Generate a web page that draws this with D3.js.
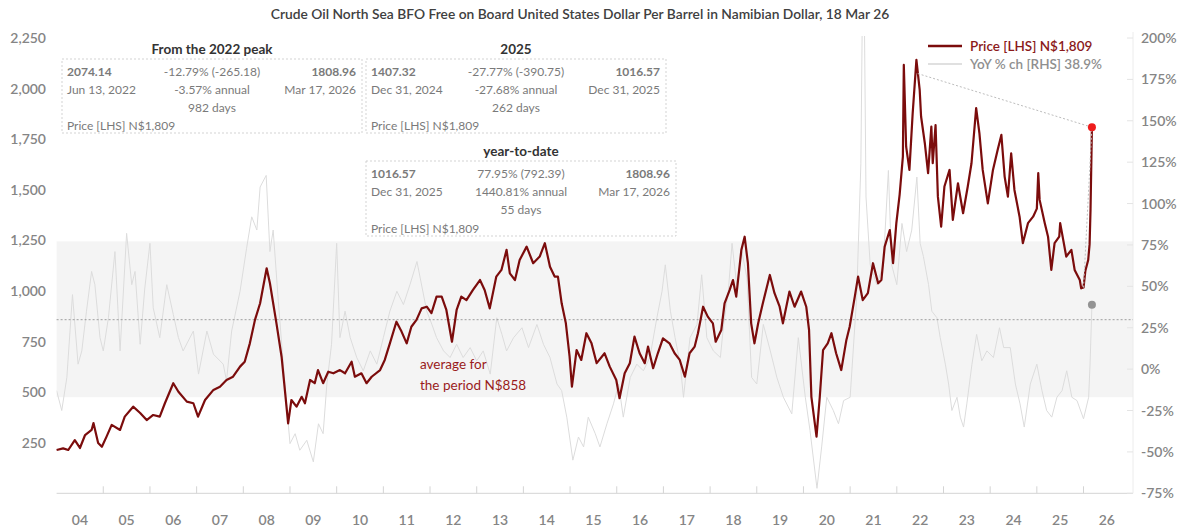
<!DOCTYPE html>
<html>
<head>
<meta charset="utf-8">
<script src="https://cdn.jsdelivr.net/npm/d3@7"></script>
<style>
  body { margin: 0; background: #fff; }
  svg { font-family: Lato, "Open Sans", sans-serif; }
</style>
</head>
<body>
<div id="chart"></div>
<script>
// price in N$ per barrel (decimal years)
var priceYears = [2004.00,2004.14,2004.25,2004.39,2004.50,2004.61,2004.75,2004.79,2004.89,2004.97,
  2005.07,2005.18,2005.36,2005.46,2005.64,2005.79,2005.93,2006.07,2006.21,2006.32,2006.50,2006.61,2006.79,2006.93,
  2007.03,2007.18,2007.36,2007.50,2007.64,2007.78,2007.93,2008.03,2008.14,2008.25,2008.36,2008.50,2008.57,2008.71,
  2008.82,2008.89,2008.96,2009.03,2009.14,2009.25,2009.32,2009.43,2009.53,2009.60,2009.71,2009.82,2009.93,
  2010.07,2010.18,2010.32,2010.39,2010.53,2010.64,2010.75,2010.93,2011.03,2011.14,2011.28,2011.39,2011.50,
  2011.60,2011.71,2011.82,2011.93,2012.03,2012.14,2012.25,2012.35,2012.47,2012.57,2012.67,2012.78,2012.92,
  2013.07,2013.17,2013.28,2013.42,2013.53,2013.64,2013.71,2013.82,2013.92,2014.07,2014.21,2014.35,2014.46,
  2014.57,2014.67,2014.74,2014.82,2014.91,2014.99,2015.04,2015.14,2015.24,2015.35,2015.46,2015.57,2015.74,
  2015.85,2015.99,2016.06,2016.17,2016.28,2016.38,2016.49,2016.60,2016.67,2016.78,2016.88,2016.99,2017.13,
  2017.24,2017.35,2017.46,2017.56,2017.67,2017.74,2017.85,2017.95,2018.06,2018.12,2018.24,2018.31,2018.42,
  2018.49,2018.56,2018.67,2018.74,2018.81,2018.88,2018.95,2019.03,2019.13,2019.28,2019.38,2019.49,2019.56,
  2019.70,2019.81,2019.95,2020.06,2020.12,2020.17,2020.28,2020.35,2020.42,2020.52,2020.60,2020.70,2020.81,
  2020.92,2020.99,2021.10,2021.17,2021.27,2021.38,2021.49,2021.60,2021.67,2021.74,2021.85,2021.92,2021.99,
  2022.06,2022.13,2022.15,2022.20,2022.27,2022.34,2022.42,2022.49,2022.52,2022.60,2022.67,2022.74,2022.77,
  2022.83,2022.88,2022.95,2023.02,2023.13,2023.20,2023.31,2023.42,2023.52,2023.60,2023.70,2023.77,2023.84,
  2023.95,2024.06,2024.16,2024.24,2024.31,2024.38,2024.45,2024.52,2024.63,2024.70,2024.81,2024.92,2025.00,
  2025.03,2025.06,2025.17,2025.24,2025.31,2025.38,2025.48,2025.50,2025.63,2025.74,2025.81,2025.92,2025.95,
  2026.00,2026.04,2026.10,2026.13,2026.15,2026.18];
var priceValues = [214,222,214,263,224,288,313,347,249,230,
  280,338,313,379,428,397,362,387,379,445,544,502,453,445,
  379,461,511,527,560,576,626,650,741,857,939,1112,1038,840,
  675,511,346,461,428,477,445,560,544,609,544,601,593,
  609,593,650,576,593,544,576,609,659,741,848,799,741,
  823,857,914,922,890,972,972,906,749,906,972,955,1005,
  1054,1005,914,1071,1104,1203,1087,1054,1153,1219,1137,1170,1236,
  1120,1071,1071,939,840,675,527,708,659,791,741,643,692,
  626,560,470,593,643,774,692,643,725,618,692,766,741,
  692,659,576,692,725,791,922,873,840,749,807,939,1005,
  1054,972,1203,1268,1137,840,741,840,939,1079,989,922,840,
  997,922,997,922,807,477,280,477,708,741,791,692,609,
  758,823,972,1071,955,989,1137,1038,1054,1219,1301,1137,1335,
  1475,1664,2117,1713,1598,1878,2142,1994,1862,1730,1582,1812,1631,
  1820,1466,1318,1516,1598,1351,1532,1384,1516,1631,1903,1779,1598,
  1433,1598,1697,1771,1565,1466,1680,1499,1367,1236,1335,1367,1407,
  1582,1450,1335,1268,1104,1236,1268,1335,1170,1203,1104,1054,1013,
  1017,1100,1153,1230,1400,1809];

// year-on-year % change, right axis
var yoyYears = [2004.00,2004.11,2004.22,2004.34,2004.46,2004.54,2004.64,2004.75,2004.82,2004.93,
  2005.00,2005.11,2005.25,2005.36,2005.50,2005.61,2005.68,2005.79,2005.89,2006.00,2006.07,2006.21,2006.36,
  2006.50,2006.61,2006.71,2006.93,2007.04,2007.22,2007.36,2007.57,2007.64,2007.75,2007.93,2008.07,2008.18,
  2008.29,2008.36,2008.49,2008.57,2008.64,2008.75,2008.89,2009.00,2009.11,2009.21,2009.36,2009.50,2009.61,
  2009.71,2009.79,2009.89,2010.00,2010.07,2010.18,2010.29,2010.43,2010.57,2010.72,2010.86,2011.00,2011.14,
  2011.29,2011.43,2011.57,2011.72,2011.79,2011.93,2012.04,2012.14,2012.29,2012.43,2012.57,2012.71,2012.86,
  2013.00,2013.14,2013.29,2013.43,2013.54,2013.64,2013.79,2013.97,2014.11,2014.29,2014.43,2014.57,2014.72,
  2014.82,2014.93,2015.06,2015.18,2015.29,2015.39,2015.54,2015.64,2015.79,2015.93,2016.04,2016.14,2016.29,
  2016.43,2016.57,2016.71,2016.86,2016.97,2017.04,2017.15,2017.25,2017.36,2017.43,2017.57,2017.72,2017.82,
  2017.93,2018.07,2018.22,2018.29,2018.39,2018.47,2018.57,2018.68,2018.79,2018.89,2019.00,2019.14,2019.29,
  2019.43,2019.57,2019.75,2019.89,2020.04,2020.14,2020.29,2020.39,2020.50,2020.64,2020.75,2020.86,2021.00,
  2021.14,2021.23,2021.27,2021.30,2021.34,2021.43,2021.57,2021.71,2021.82,2021.89,2022.00,2022.11,2022.21,
  2022.32,2022.43,2022.50,2022.57,2022.68,2022.75,2022.86,2022.93,2023.04,2023.11,2023.18,2023.29,2023.36,
  2023.43,2023.50,2023.61,2023.71,2023.82,2023.93,2024.07,2024.20,2024.29,2024.43,2024.54,2024.64,2024.73,
  2024.86,2025.00,2025.11,2025.21,2025.32,2025.43,2025.54,2025.64,2025.75,2025.86,2026.00,2026.11,2026.14,
  2026.18];
var yoyValues = [-13,-25,-5,45,3,11,35,59,51,19,
  11,31,71,11,82,51,59,15,49,76,37,19,51,
  33,19,11,23,-3,23,9,3,-7,23,47,73,92,
  84,110,117,71,84,41,-9,-45,-39,-49,-43,-56,-33,
  -39,-9,15,76,19,35,19,7,-1,11,3,19,35,
  47,39,51,65,55,35,27,19,11,7,15,7,13,
  5,11,-3,31,21,11,19,25,13,27,15,7,-9,
  -13,-29,-55,-41,-47,-29,-39,-47,-33,-21,-9,-29,-5,
  3,-1,7,31,47,63,35,19,3,-17,19,27,57,
  19,11,7,27,47,76,51,71,55,-5,-9,27,11,
  -5,-17,-27,19,-17,-37,-72,-47,-17,-25,-33,-19,-17,
  43,124,240,230,104,63,51,63,120,63,51,88,71,
  84,116,76,68,51,35,31,19,3,-9,-25,-17,-29,
  -35,-21,3,21,5,11,7,25,13,13,-9,-21,-35,
  -9,3,-13,-25,-29,-17,-13,-1,-17,-19,-30,-17,3,
  38.9];

var leftTicks = [250, 500, 750, 1000, 1250, 1500, 1750, 2000, 2250];
var rightTicks = [-75, -50, -25, 0, 25, 50, 75, 100, 125, 150, 175, 200];
var yearLabels = ['04','05','06','07','08','09','10','11','12','13','14','15','16','17','18','19','20','21','22','23','24','25','26'];

var avgPrice = 858;
var bandRange = [475, 1245];
var peakPoint = [2022.45, 2074.14];
var ytdStart = [2026.00, 1016.57];
var lastPoint = [2026.18, 1808.96];

var titleText = 'Crude Oil North Sea BFO Free on Board United States Dollar Per Barrel in Namibian Dollar, 18 Mar 26';

var boxes = [
  {title: 'From the 2022 peak', x0: 62, x1: 362, y0: 59, y1: 133,
   rows: [['2074.14', '-12.79% (-265.18)', '1808.96'], ['Jun 13, 2022', '-3.57% annual', 'Mar 17, 2026'], ['', '982 days', '']]},
  {title: '2025', x0: 366, x1: 666, y0: 59, y1: 133,
   rows: [['1407.32', '-27.77% (-390.75)', '1016.57'], ['Dec 31, 2024', '-27.68% annual', 'Dec 31, 2025'], ['', '262 days', '']]},
  {title: 'year-to-date', x0: 366, x1: 676, y0: 161, y1: 236,
   rows: [['1016.57', '77.95% (792.39)', '1808.96'], ['Dec 31, 2025', '1440.81% annual', 'Mar 17, 2026'], ['', '55 days', '']]}
];

var W = 1187, H = 528;
var plotL = 56.6, plotR = 1133, plotT = 38, plotB = 493.3;
var red = '#7b0c0c', greyTxt = '#858585';

var svg = d3.select('#chart').append('svg').attr('width', W).attr('height', H);

var x = d3.scaleLinear().domain([2004, 2027.06]).range([plotL, plotR]);
var y = d3.scaleLinear().domain([0, 2250]).range([plotB, plotT]);
var y2 = d3.scaleLinear().domain([-75, 200]).range([plotB, plotT]);

svg.append('defs').append('clipPath').attr('id', 'plotclip')
  .append('rect').attr('x', plotL).attr('y', plotT - 2).attr('width', plotR - plotL).attr('height', plotB - plotT + 2);

// band and average
svg.append('rect').attr('x', plotL).attr('width', plotR - plotL)
  .attr('y', y(bandRange[1])).attr('height', y(bandRange[0]) - y(bandRange[1]))
  .attr('fill', '#f4f4f4');

// frame lines
svg.append('line').attr('x1', plotL).attr('x2', plotR).attr('y1', plotB).attr('y2', plotB)
  .attr('stroke', '#d4d4d4');
svg.append('line').attr('x1', plotR).attr('x2', plotR).attr('y1', plotT - 6).attr('y2', plotB)
  .attr('stroke', '#ececec');

// x ticks at year boundaries
var yearTicks = d3.range(2005, 2027);
svg.selectAll('.xt').data(yearTicks).enter().append('line')
  .attr('x1', function(d) { return x(d); }).attr('x2', function(d) { return x(d); })
  .attr('y1', plotB).attr('y2', plotB - 7).attr('stroke', '#d4d4d4');

svg.selectAll('.xl').data(yearLabels).enter().append('text')
  .attr('x', function(d, i) { return x(2004.5 + i); })
  .attr('y', 525)
  .attr('text-anchor', 'middle')
  .attr('font-size', 14).attr('font-weight', 600).attr('fill', greyTxt)
  .text(function(d) { return d; });

// left axis labels
svg.selectAll('.yl').data(leftTicks).enter().append('text')
  .attr('x', 46).attr('y', function(d) { return y(d) + 5; })
  .attr('text-anchor', 'end')
  .attr('font-size', 14).attr('font-weight', 600).attr('fill', greyTxt)
  .text(function(d) { return d3.format(',')(d); });

// right axis
svg.selectAll('.rt').data(rightTicks).enter().append('line')
  .attr('x1', plotR - 6).attr('x2', plotR)
  .attr('y1', function(d) { return y2(d); }).attr('y2', function(d) { return y2(d); })
  .attr('stroke', '#e4e4e4');
svg.selectAll('.rl').data(rightTicks).enter().append('text')
  .attr('x', 1141).attr('y', function(d) { return y2(d) + 5; })
  .attr('font-size', 14).attr('font-weight', 600).attr('fill', greyTxt)
  .text(function(d) { return d + '%'; });

// yoy line
var yoyData = yoyYears.map(function(d, i) { return [d, yoyValues[i]]; });
svg.append('path').datum(yoyData)
  .attr('clip-path', 'url(#plotclip)')
  .attr('fill', 'none').attr('stroke', '#dcdcdc').attr('stroke-width', 1)
  .attr('d', d3.line().x(function(d) { return x(d[0]); }).y(function(d) { return y2(d[1]); }));

// average line
svg.append('line').attr('x1', plotL).attr('x2', plotR)
  .attr('y1', y(avgPrice)).attr('y2', y(avgPrice))
  .attr('stroke', '#8a8a8a').attr('stroke-width', 0.8).attr('stroke-dasharray', '2,2');

// price line
var priceData = priceYears.map(function(d, i) { return [d, priceValues[i]]; });
svg.append('path').datum(priceData)
  .attr('fill', 'none').attr('stroke', red).attr('stroke-width', 2.2)
  .attr('stroke-linejoin', 'round')
  .attr('d', d3.line().x(function(d) { return x(d[0]); }).y(function(d) { return y(d[1]); }));

// connectors
[peakPoint, ytdStart].forEach(function(p) {
  svg.append('line')
    .attr('x1', x(p[0])).attr('y1', y(p[1]))
    .attr('x2', x(lastPoint[0])).attr('y2', y(lastPoint[1]))
    .attr('stroke', '#bdbdbd').attr('stroke-width', 1).attr('stroke-dasharray', '2,2');
});

svg.append('circle').attr('cx', x(lastPoint[0])).attr('cy', y(lastPoint[1])).attr('r', 4).attr('fill', '#ee1c1c');
svg.append('circle').attr('cx', x(yoyYears[yoyYears.length - 1])).attr('cy', y2(yoyValues[yoyValues.length - 1]))
  .attr('r', 4).attr('fill', '#939393');

// average label
svg.append('text').attr('x', 420).attr('y', 369).attr('font-size', 13.5).attr('fill', '#9a1b1b').text('average for');
svg.append('text').attr('x', 420).attr('y', 390).attr('font-size', 13.5).attr('fill', '#9a1b1b').text('the period N$' + avgPrice);

// title
svg.append('text').attr('x', 580).attr('y', 19).attr('text-anchor', 'middle')
  .attr('font-size', 13.8).attr('font-weight', 600).attr('fill', '#404040').text(titleText);

// legend
svg.append('line').attr('x1', 928).attr('x2', 962).attr('y1', 46).attr('y2', 46).attr('stroke', red).attr('stroke-width', 2.5);
svg.append('text').attr('x', 970).attr('y', 51).attr('font-size', 13.5).attr('font-weight', 600).attr('fill', '#8b1a1a')
  .text('Price [LHS] N$1,809');
svg.append('line').attr('x1', 928).attr('x2', 962).attr('y1', 64).attr('y2', 64).attr('stroke', '#e0e0e0').attr('stroke-width', 2);
svg.append('text').attr('x', 970).attr('y', 69).attr('font-size', 13.5).attr('font-weight', 600).attr('fill', '#8f8f8f')
  .text('YoY % ch [RHS] 38.9%');

// annotation boxes
boxes.forEach(function(b) {
  var g = svg.append('g');
  g.append('rect').attr('x', b.x0).attr('y', b.y0).attr('width', b.x1 - b.x0).attr('height', b.y1 - b.y0)
    .attr('fill', 'rgba(255,255,255,0.6)').attr('stroke', '#c8c8c8').attr('stroke-width', 0.8).attr('stroke-dasharray', '2,2');
  g.append('text').attr('x', (b.x0 + b.x1) / 2).attr('y', b.y0 - 5).attr('text-anchor', 'middle')
    .attr('font-size', 13.5).attr('font-weight', 'bold').attr('fill', '#333').text(b.title);
  b.rows.forEach(function(r, i) {
    var yy = b.y0 + 17 + i * 18;
    var fw = i === 0 ? 'bold' : 'normal';
    g.append('text').attr('x', b.x0 + 5).attr('y', yy).attr('font-size', 12).attr('font-weight', fw).attr('fill', '#7a7a7a').text(r[0]);
    g.append('text').attr('x', (b.x0 + b.x1) / 2).attr('y', yy).attr('text-anchor', 'middle').attr('font-size', 12).attr('fill', '#7a7a7a').text(r[1]);
    g.append('text').attr('x', b.x1 - 6).attr('y', yy).attr('text-anchor', 'end').attr('font-size', 12).attr('font-weight', fw).attr('fill', '#7a7a7a').text(r[2]);
  });
  g.append('text').attr('x', b.x0 + 5).attr('y', b.y1 - 3).attr('font-size', 12).attr('fill', '#7a7a7a').text('Price [LHS] N$1,809');
});
</script>
</body>
</html>
